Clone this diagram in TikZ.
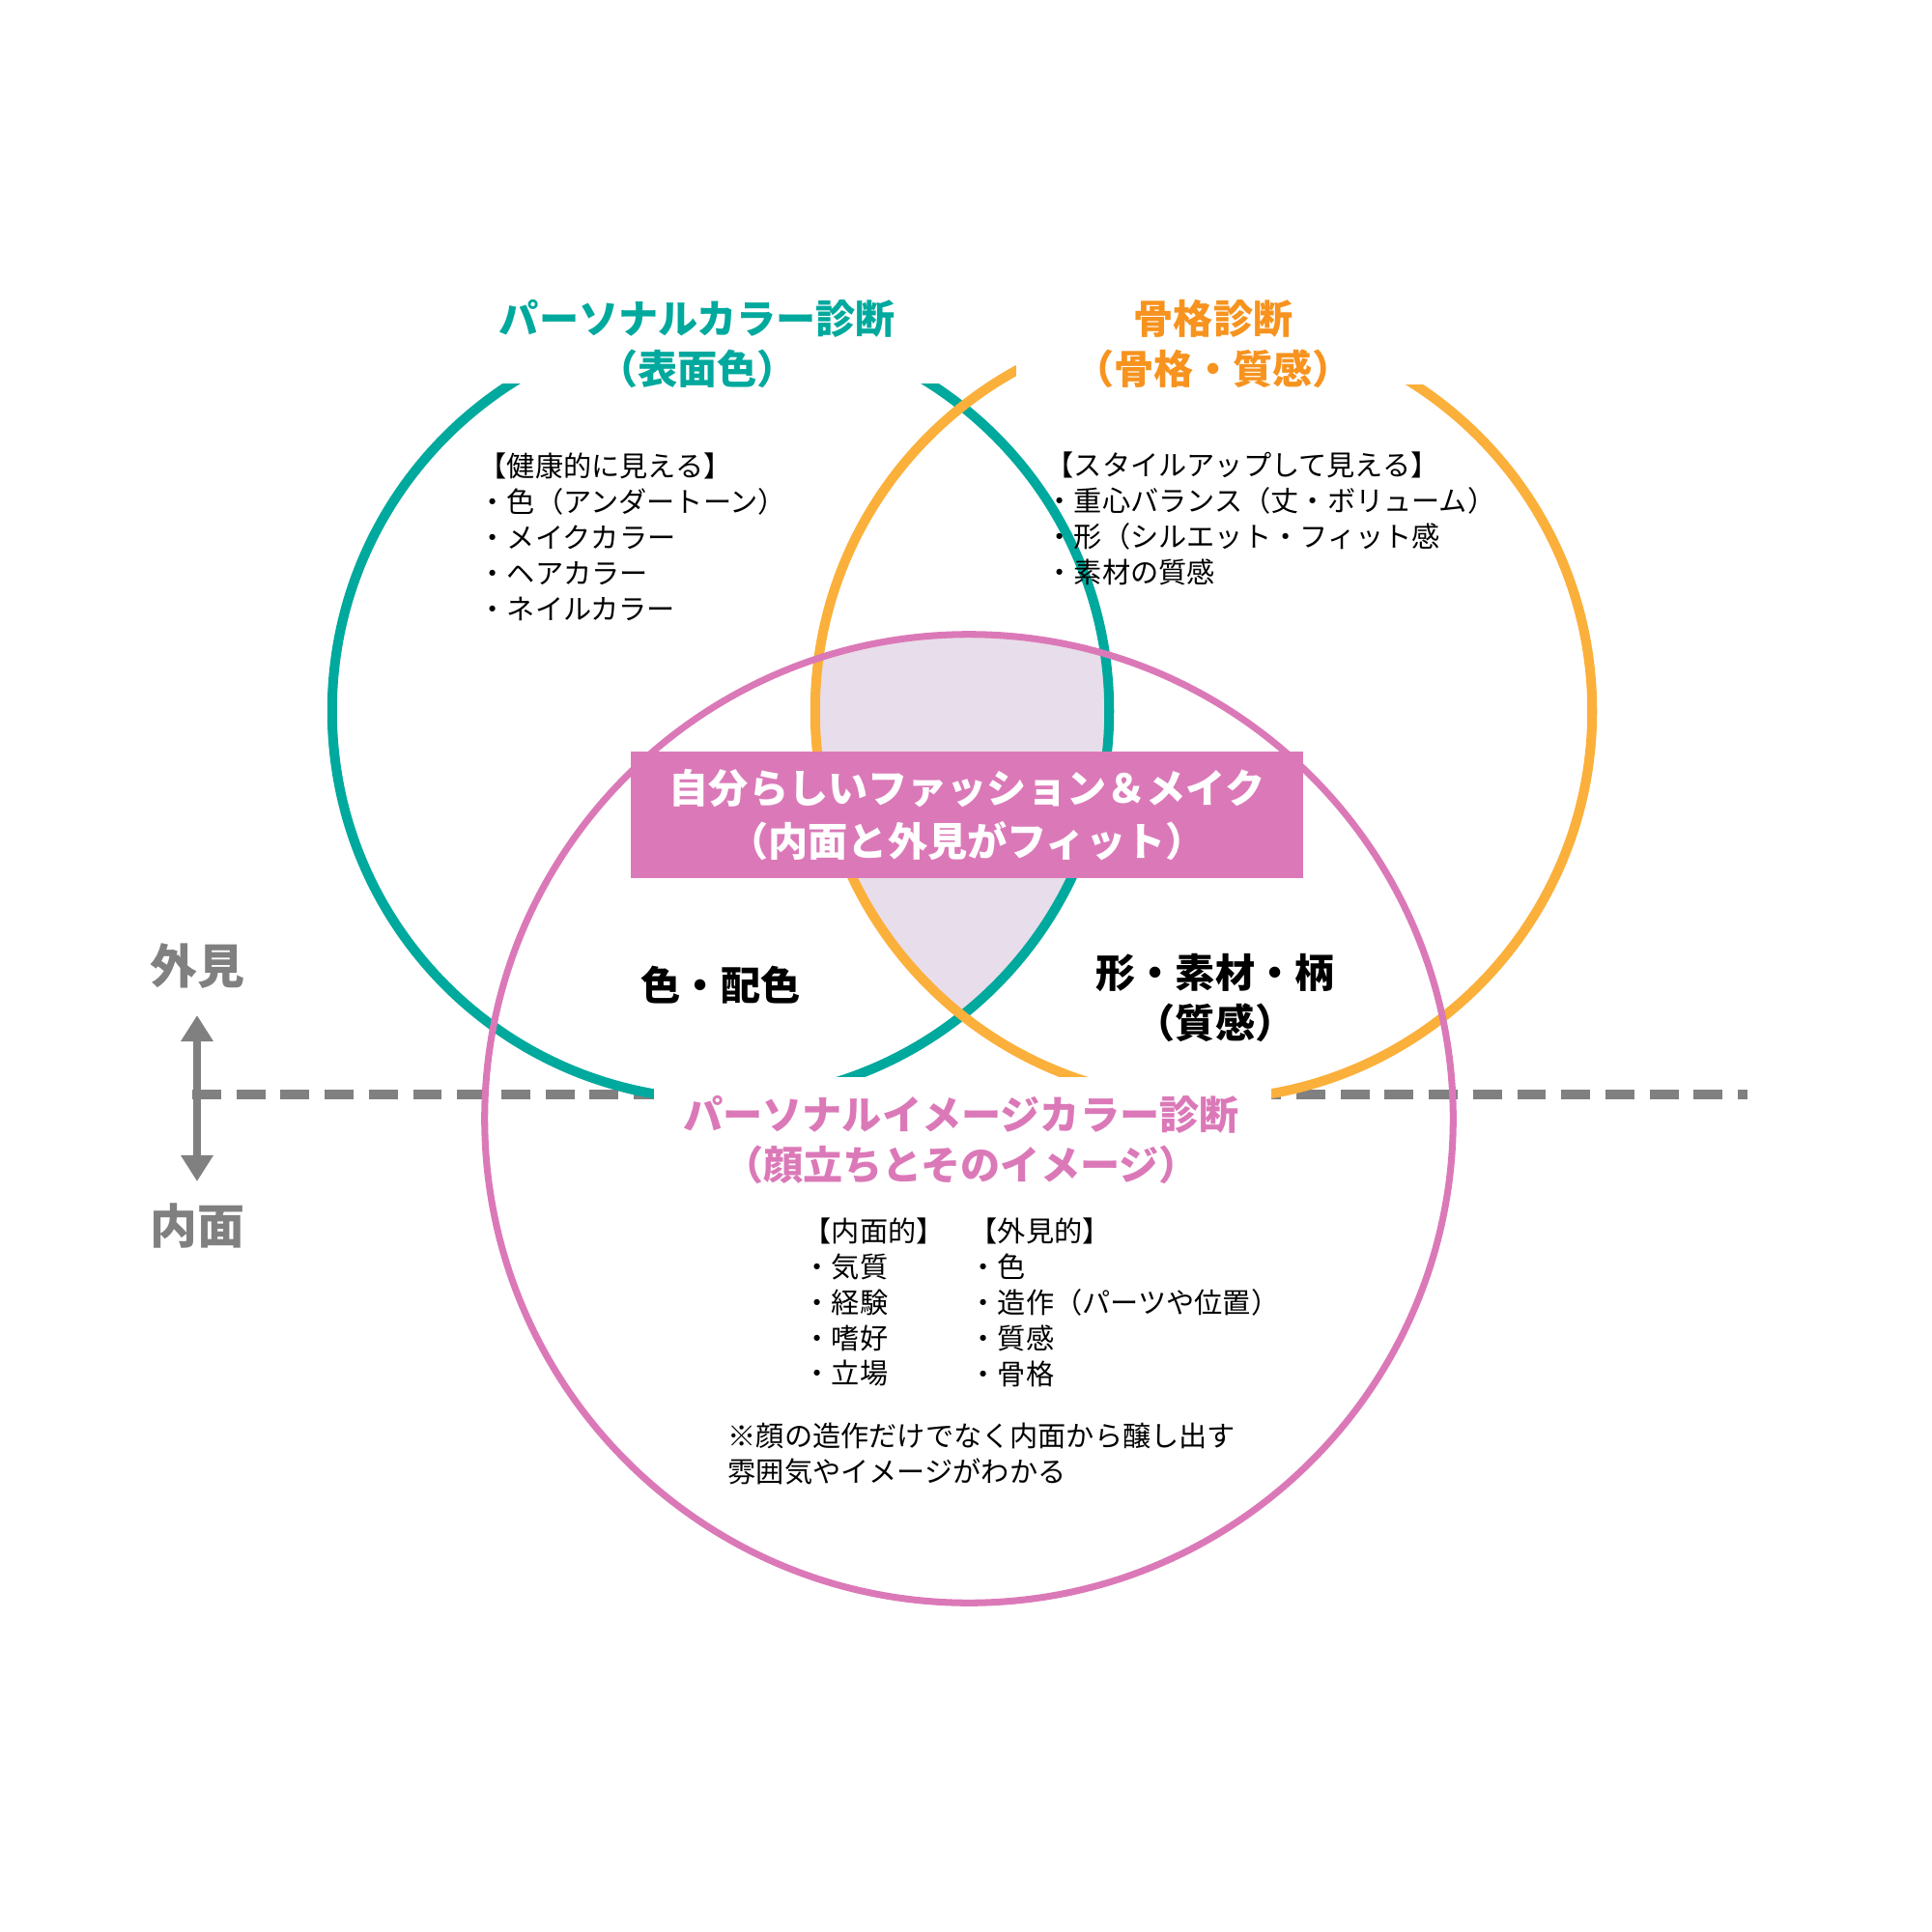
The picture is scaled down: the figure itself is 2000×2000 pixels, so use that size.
\documentclass[tikz,border=0pt]{standalone}
\usepackage{fontspec}
\setmainfont{Noto Sans CJK JP}
\usetikzlibrary{arrows.meta}
\definecolor{tealc}{HTML}{00A99D}
\definecolor{orangec}{HTML}{FBB03B}
\definecolor{orangetx}{HTML}{F7931E}
\definecolor{pinkc}{HTML}{DB79B8}
\definecolor{lensc}{HTML}{E8DDEA}
\definecolor{grayc}{HTML}{808080}
\begin{document}
\begin{tikzpicture}[x=0.01cm,y=-0.01cm,
  titletxt/.style={font=\fontsize{11.7pt}{15pt}\selectfont\bfseries, align=center, inner sep=0pt},
  bodytxt/.style={font=\fontsize{8.3pt}{10.5pt}\selectfont, align=left, anchor=west, inner sep=0pt},
  axistxt/.style={font=\fontsize{13.9pt}{16pt}\selectfont\bfseries, text=grayc, inner sep=0pt},
  ringline/.style={line width=2.85pt},
  pinkline/.style={line width=2pt, draw=pinkc},
  divider/.style={draw=grayc, line width=2.85pt, dash pattern=on 8.5pt off 4.5pt},
  centerbox/.style={fill=pinkc, text=white, minimum width=6.96cm, minimum height=1.31cm, inner sep=0pt, align=center, font=\fontsize{11.7pt}{15.5pt}\selectfont\bfseries},
]
\useasboundingbox (0,0) rectangle (2000,2000);
\fill[white] (0,0) rectangle (2000,2000);

% centres
\coordinate (ct) at (746,736);
\coordinate (co) at (1246,736);
\coordinate (cp) at (1003,1158);

% triple intersection
\begin{scope}
  \clip (ct) circle (4.02cm);
  \clip (co) circle (4.02cm);
  \fill[lensc] (cp) circle (5.01cm);
\end{scope}

% divider
\coordinate (dl) at (199,1133);
\coordinate (dr) at (1809,1133);
\draw[divider] (dl) -- (dr);

% circles
\draw[ringline, draw=tealc] (ct) circle (4.02cm);
\draw[ringline, draw=orangec] (co) circle (4.02cm);
\draw[pinkline] (cp) circle (5.01cm);

% white masks behind titles
\fill[white] (500,280) rectangle (975,397);
\fill[white] (1052,280) rectangle (1500,398);
\fill[white] (677,1115) rectangle (1316,1245);

% titles
\node[titletxt, text=tealc] (tpc) at (722,356) {パーソナルカラー診断\\（表面色）};
\node[titletxt, text=orangetx] (tsk) at (1256,356) {骨格診断\\（骨格・質感）};
\node[titletxt, text=pinkc] (tpi) at (995,1180) {パーソナルイメージカラー診断\\（顔立ちとそのイメージ）};

% lists
\node[bodytxt] (lpc) at (495,556) {【健康的に見える】\\・色（アンダートーン）\\・メイクカラー\\・ヘアカラー\\・ネイルカラー};
\node[bodytxt] (lsk) at (1082,537) {【スタイルアップして見える】\\・重心バランス（丈・ボリューム）\\・形（シルエット・フィット感\\・素材の質感};
\node[bodytxt] (lin) at (831,1348) {【内面的】\\・気質\\・経験\\・嗜好\\・立場};
\node[bodytxt] (lout) at (1003,1348) {【外見的】\\・色\\・造作（パーツや位置）\\・質感\\・骨格};
\node[bodytxt] (note) at (753,1505) {※顔の造作だけでなく内面から醸し出す\\雰囲気やイメージがわかる};

% overlap labels
\node[titletxt] (lco) at (746,1020) {色・配色};
\node[titletxt] (lsh) at (1258,1033) {形・素材・柄\\（質感）};

% centre box
\node[centerbox] (fit) at (1001,843.5) {自分らしいファッション＆メイク\\（内面と外見がフィット）};

% axis
\coordinate (at) at (204,1051);
\coordinate (ab) at (204,1223);
\draw[draw=grayc, line width=2.3pt, {Triangle[width=9.1pt,length=7.7pt]}-{Triangle[width=9.1pt,length=7.7pt]}] (at) -- (ab);
\node[axistxt] (gai) at (204,1000) {外見};
\node[axistxt] (nai) at (204,1269) {内面};
\end{tikzpicture}
\end{document}
